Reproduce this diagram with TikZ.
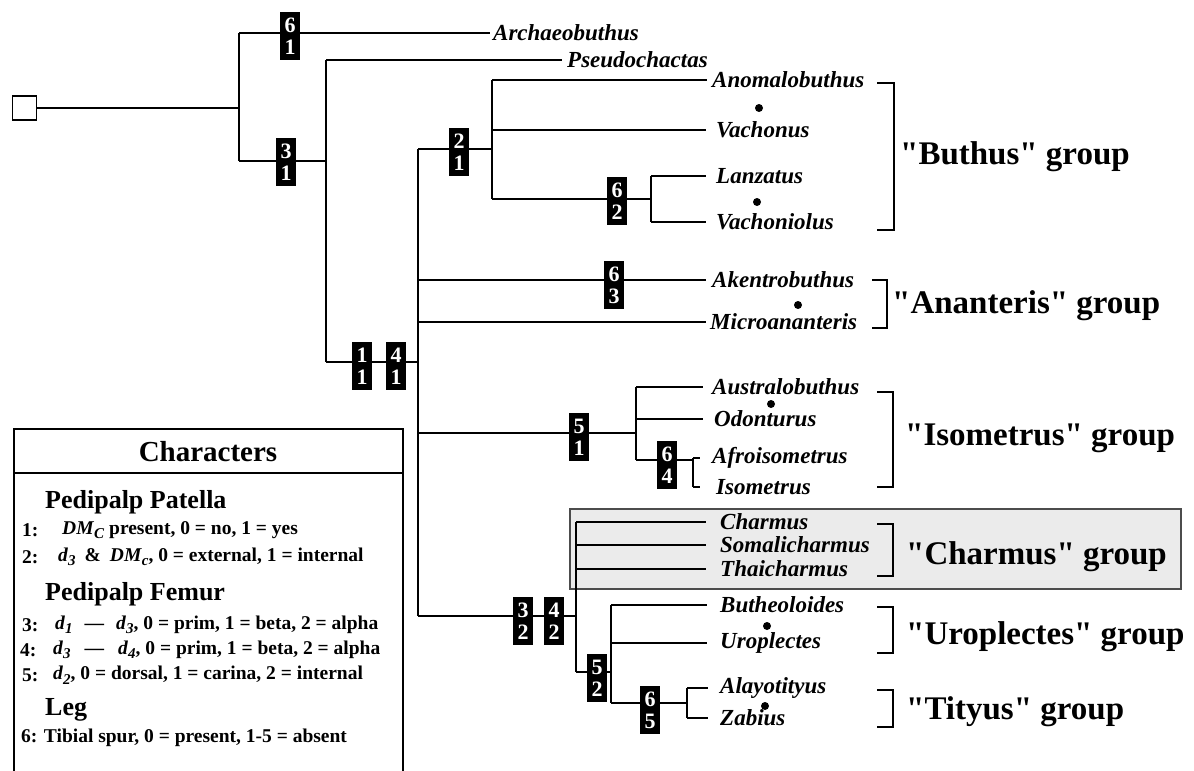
\documentclass[tikz,border=0pt]{standalone}
\usepackage{fontspec}
\setmainfont{Liberation Serif}
\newfontfamily\grpfont{Liberation Serif}
\newcommand\mysub[2]{\textit{#1}\raisebox{-0.5ex}{\fontsize{15}{15}\selectfont\textit{#2}}}
\begin{document}
\begin{tikzpicture}[x=1pt,y=-1pt,
 br/.style={line width=1.8pt},
 mk/.style={fill=black,text=white,font=\fontsize{22}{22}\selectfont\bfseries,minimum width=20pt,minimum height=48pt,inner sep=0pt,align=center},
 tx/.style={anchor=west,inner sep=0pt,font=\fontsize{23}{25}\selectfont\bfseries\itshape},
 grp/.style={anchor=west,inner sep=0pt,font=\fontsize{33}{35}\selectfont\grpfont\bfseries},
 dotm/.style={circle,fill=black,inner sep=0pt,minimum size=8pt},
 lg/.style={anchor=west,inner sep=0pt,font=\fontsize{19.5}{21}\selectfont\bfseries},
 lh/.style={anchor=west,inner sep=0pt,font=\fontsize{26}{28}\selectfont\bfseries},
 bk/.style={line width=2.6pt}]
\useasboundingbox (0,0) rectangle (1194,771);
% grey Charmus box
\node[draw=black!70,fill=black!8,line width=1.5pt,minimum width=611pt,minimum height=80pt,inner sep=0pt,anchor=north west] (cbox) at (569,508) {};
% root
\node[draw,line width=1.5pt,minimum size=24pt,inner sep=0pt] (root) at (24.5,108) {};
% taxa
\node[tx] (archaeo) at (493,33) {Archaeobuthus};
\node[tx] (pseudo) at (567,60) {Pseudochactas};
\node[tx] (anomalo) at (712,80) {Anomalobuthus};
\node[tx] (vachonus) at (716,130) {Vachonus};
\node[tx] (lanz) at (716,176) {Lanzatus};
\node[tx] (vachoniolus) at (716,222) {Vachoniolus};
\node[tx] (akentro) at (712,280) {Akentrobuthus};
\node[tx] (micro) at (710,322) {Microananteris};
\node[tx] (austral) at (712,387) {Australobuthus};
\node[tx] (odont) at (714,419) {Odonturus};
\node[tx] (afro) at (712,458) {Afroisometrus};
\node[tx] (iso) at (716,487) {Isometrus};
\node[tx] (charmus) at (720,522) {Charmus};
\node[tx] (somali) at (720,545) {Somalicharmus};
\node[tx] (thai) at (720,569) {Thaicharmus};
\node[tx] (buth) at (720,605) {Butheoloides};
\node[tx] (uropl) at (720,643) {Uroplectes};
\node[tx] (alay) at (720,688) {Alayotityus};
\node[tx] (zab) at (720,718) {Zabius};
% junction coordinates
\coordinate (n1) at (239,108); \coordinate (n1t) at (239,33); \coordinate (n1b) at (239,161);
\coordinate (n2) at (326,161); \coordinate (n2t) at (326,60); \coordinate (n2b) at (326,362);
\coordinate (n3) at (418,362); \coordinate (n3t) at (418,149); \coordinate (n3b) at (418,616);
\coordinate (n4) at (492,149); \coordinate (n4t) at (492,80); \coordinate (n4m) at (492,130); \coordinate (n4b) at (492,199);
\coordinate (n5) at (651,199); \coordinate (n5t) at (651,176); \coordinate (n5b) at (651,222);
\coordinate (a1) at (418,280); \coordinate (a2) at (418,322);
\coordinate (i0) at (418,433); \coordinate (n6) at (636,433); \coordinate (n6t) at (636,387); \coordinate (n6m) at (636,419); \coordinate (n6b) at (636,460);
\coordinate (n7) at (693,460); \coordinate (n7t) at (693,458); \coordinate (n7b) at (693,487);
\coordinate (n8) at (576,616); \coordinate (n8t) at (576,522); \coordinate (n8a) at (576,545); \coordinate (n8c) at (576,569); \coordinate (n8b) at (576,672);
\coordinate (n9) at (611,672); \coordinate (n9t) at (611,605); \coordinate (n9m) at (611,643); \coordinate (n9b) at (611,703);
\coordinate (n10) at (687,703); \coordinate (n10t) at (687,688); \coordinate (n10b) at (687,718);
% branches
\draw[br] (root.east) -- (n1);
\draw[br] (n1t) -- (n1b);
\draw[br] (n1t) -- ([xshift=-3pt]archaeo.west);
\draw[br] (n1b) -- (n2);
\draw[br] (n2t) -- (n2b);
\draw[br] (n2t) -- ([xshift=-5pt]pseudo.west);
\draw[br] (n2b) -- (n3);
\draw[br] (n3t) -- (n3b);
\draw[br] (n3t) -- (n4);
\draw[br] (n4t) -- (n4b);
\draw[br] (n4t) -- ([xshift=-5pt]anomalo.west);
\draw[br] (n4m) -- ([xshift=-10pt]vachonus.west);
\draw[br] (n4b) -- (n5);
\draw[br] (n5t) -- (n5b);
\draw[br] (n5t) -- ([xshift=-10pt]lanz.west);
\draw[br] (n5b) -- ([xshift=-10pt]vachoniolus.west);
\draw[br] (a1) -- ([xshift=-6pt]akentro.west);
\draw[br] (a2) -- ([xshift=-4pt]micro.west);
\draw[br] (i0) -- (n6);
\draw[br] (n6t) -- (n6b);
\draw[br] (n6t) -- ([xshift=-9pt]austral.west);
\draw[br] (n6m) -- ([xshift=-11pt]odont.west);
\draw[br] (n6b) -- (n7);
\draw[br] (n7t) -- (n7b);
\draw[br] (n7t) -- ([xshift=-12pt]afro.west);
\draw[br] (n7b) -- ([xshift=-16pt]iso.west);
\draw[br] (n3b) -- (n8);
\draw[br] (n8t) -- (n8b);
\draw[br] (n8t) -- ([xshift=-14pt]charmus.west);
\draw[br] (n8a) -- ([xshift=-14pt]somali.west);
\draw[br] (n8c) -- ([xshift=-14pt]thai.west);
\draw[br] (n8b) -- (n9);
\draw[br] (n9t) -- (n9b);
\draw[br] (n9t) -- ([xshift=-13pt]buth.west);
\draw[br] (n9m) -- ([xshift=-13pt]uropl.west);
\draw[br] (n9b) -- (n10);
\draw[br] (n10t) -- (n10b);
\draw[br] (n10t) -- ([xshift=-12pt]alay.west);
\draw[br] (n10b) -- ([xshift=-12pt]zab.west);
% character markers
\node[mk] (m61) at (290,36) {6\\1};
\node[mk] (m31) at (286,162) {3\\1};
\node[mk] (m11) at (362,366) {1\\1};
\node[mk] (m41) at (396,366) {4\\1};
\node[mk] (m21) at (459,152) {2\\1};
\node[mk] (m62) at (617,201) {6\\2};
\node[mk] (m63) at (614,285) {6\\3};
\node[mk] (m51) at (579,437) {5\\1};
\node[mk] (m64) at (667,465) {6\\4};
\node[mk] (m32) at (523,621) {3\\2};
\node[mk] (m42) at (554,621) {4\\2};
\node[mk] (m52) at (597,678) {5\\2};
\node[mk] (m65) at (650,710) {6\\5};
% dots
\node[dotm] (d1) at (759,108) {};
\node[dotm] (d2) at (757,202) {};
\node[dotm] (d3) at (798,305) {};
\node[dotm] (d4) at (771,404) {};
\node[dotm] (d5) at (767,626) {};
\node[dotm] (d6) at (765,706) {};
% brackets
\draw[bk] (877,83) -- (894,83) -- (894,230) -- (877,230);
\draw[bk] (872,280) -- (887,280) -- (887,328) -- (872,328);
\draw[bk] (877,392) -- (893,392) -- (893,487) -- (877,487);
\draw[bk] (877,524) -- (893,524) -- (893,576) -- (877,576);
\draw[bk] (877,607) -- (893,607) -- (893,653) -- (877,653);
\draw[bk] (877,690) -- (893,690) -- (893,727) -- (877,727);
% group labels
\node[grp] (gb) at (900,157) {"Buthus" group};
\node[grp] (ga) at (892,306) {"Ananteris" group};
\node[grp] (gi) at (905,438) {"Isometrus" group};
\node[grp] (gc) at (906,557) {"Charmus" group};
\node[grp] (gu) at (906,637) {"Uroplectes" group};
\node[grp] (gt) at (906,712) {"Tityus" group};
% legend
\draw[line width=2.5pt] (14,775) -- (14,429) -- (403,429) -- (403,775);
\draw[line width=2pt] (14,473) -- (403,473);
\node[font=\fontsize{29}{30}\selectfont\bfseries] (lt) at (208,452) {Characters};
\node[lh] (l1h) at (45,502) {Pedipalp Patella};
\node[lg] (l1n) at (22,530) {1:};
\node[lg] (l1) at (62,530) {\mysub{DM}{C} present, 0 = no, 1 = yes};
\node[lg] (l2n) at (22,557) {2:};
\node[lg] (l2) at (58,557) {\mysub{d}{3}\hspace{9pt}\&\hspace{9pt}\mysub{DM}{c}, 0 = external, 1 = internal};
\node[lh] (l2h) at (45,594) {Pedipalp Femur};
\node[lg] (l3n) at (22,625) {3:};
\node[lg] (l3) at (55,625) {\mysub{d}{1}\hspace{12pt}—\hspace{12pt}\mysub{d}{3}, 0 = prim, 1 = beta, 2 = alpha};
\node[lg] (l4n) at (20,650) {4:};
\node[lg] (l4) at (53,650) {\mysub{d}{3}\hspace{14pt}—\hspace{14pt}\mysub{d}{4}, 0 = prim, 1 = beta, 2 = alpha};
\node[lg] (l5n) at (22,675) {5:};
\node[lg] (l5) at (53,675) {\mysub{d}{2}, 0 = dorsal, 1 = carina, 2 = internal};
\node[lh] (l3h) at (45,710) {Leg};
\node[lg] (l6) at (21,738) {6: Tibial spur, 0 = present, 1-5 = absent};
\end{tikzpicture}
\end{document}
